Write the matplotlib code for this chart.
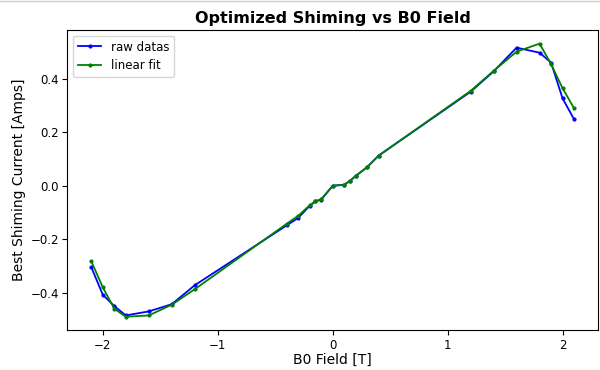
import matplotlib
matplotlib.use("Agg")
import matplotlib.pyplot as plt
from matplotlib.lines import Line2D

b0_field = [-2.1, -2.0, -1.9, -1.8, -1.6, -1.4, -1.2, -0.4, -0.3, -0.2, -0.15, -0.1,
            0.0, 0.1, 0.15, 0.2, 0.3, 0.4, 1.2, 1.4, 1.6, 1.8, 1.9, 2.0, 2.1]

raw_current = [-0.305, -0.408, -0.450, -0.485, -0.470, -0.443, -0.372, -0.148, -0.120,
               -0.075, -0.058, -0.052, 0.0, 0.004, 0.018, 0.037, 0.070, 0.113,
               0.352, 0.428, 0.517, 0.498, 0.461, 0.327, 0.249]

fit_current = [-0.283, -0.380, -0.460, -0.490, -0.485, -0.445, -0.387, -0.142, -0.112,
               -0.073, -0.058, -0.050, 0.0, 0.004, 0.018, 0.037, 0.070, 0.113,
               0.355, 0.430, 0.502, 0.532, 0.455, 0.365, 0.290]

fig = plt.figure(figsize=(6, 3.7), dpi=100)
ax = fig.add_axes([0.112, 0.107, 0.885, 0.812])

ax.plot(b0_field, raw_current, color="blue", marker=".", markersize=4, linewidth=1.3, label="raw datas")
ax.plot(b0_field, fit_current, color="green", marker=".", markersize=4, linewidth=1.3, label="linear fit")

ax.set_title("Optimized Shiming vs B0 Field", fontsize=11.5, fontweight="bold", pad=5)
ax.set_xlabel("B0 Field [T]", fontsize=10, labelpad=1)
ax.set_ylabel("Best Shiming Current [Amps]", fontsize=10, labelpad=3)
ax.tick_params(labelsize=8.5, pad=2.5)
ax.legend(loc="upper left", fontsize=8.5)

# thin grey rule along the top edge, as in the source image
fig.add_artist(Line2D([0, 1], [0.997, 0.997], transform=fig.transFigure, color="#cccccc", linewidth=1))

fig.savefig("out.png", dpi=100)
